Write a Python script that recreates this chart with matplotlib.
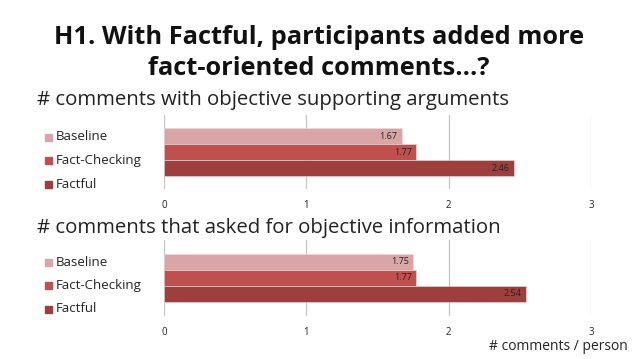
import matplotlib
matplotlib.use("Agg")
import matplotlib.pyplot as plt
from matplotlib.patches import Rectangle

plt.rcParams['font.family'] = ['Open Sans', 'DejaVu Sans']

title = "H1. With Factful, participants added more\nfact-oriented comments...?"
subtitles = ["# comments with objective supporting arguments",
             "# comments that asked for objective information"]
categories = ["Baseline", "Fact-Checking", "Factful"]
values_supporting = [1.67, 1.77, 2.46]
values_asked = [1.75, 1.77, 2.54]
xticks = [0, 1, 2, 3]
xlabel = "# comments / person"
colors = ["#D9A5A6", "#C0504D", "#9E3F3D"]

W, H = 638, 359
fig = plt.figure(figsize=(W / 100, H / 100), dpi=100)

def px_axes(x0, y0, x1, y1):
    return fig.add_axes([x0 / W, 1 - y1 / H, (x1 - x0) / W, (y1 - y0) / H])

fig.text(0.5, 1 - 53 / H, title, ha="center", va="center", fontsize=18.3,
         fontweight="bold", color="#111111", linespacing=1.3)

panels = [
    (values_supporting, subtitles[0], 115, 189, 100),
    (values_asked, subtitles[1], 240, 316, 228),
]

for vals, sub, ytop, ybot, ysub in panels:
    ax = px_axes(164, ytop, 591, ybot)
    n = len(categories)
    span = ybot - ytop
    bar_px = 16
    margin = (span - n * bar_px) / 2 / bar_px
    ax.set_xlim(0, 3)
    ax.set_ylim(n - 0.5 + margin, -0.5 - margin)
    ax.barh(range(n), vals, height=1.0, color=colors, edgecolor="#F2DADA",
            linewidth=0.4, zorder=3)
    for i, v in enumerate(vals):
        ax.text(v - 0.03, i, f"{v:.2f}", ha="right", va="center",
                fontsize=6.5, color="#222222", zorder=4)
    ax.set_xticks(xticks)
    ax.grid(axis="x", color="#C4C4C4", linewidth=0.9, zorder=0)
    ax.tick_params(axis="x", length=0, labelsize=7, colors="#222222", pad=8)
    ax.set_yticks([])
    for s in ax.spines.values():
        s.set_visible(False)
    fig.text(37 / W, 1 - ysub / H, sub, ha="left", va="center",
             fontsize=14.7, color="#222222")
    # legend
    for i, c in enumerate(categories):
        yc = ytop + 22 + i * 23.5
        fig.patches.append(Rectangle((45 / W, 1 - (yc + 3.5) / H), 7 / W, 7 / H,
                                     transform=fig.transFigure, color=colors[i]))
        fig.text(56 / W, 1 - yc / H, c, ha="left", va="center",
                 fontsize=9.5, color="#222222")

fig.text(628 / W, 1 - 346 / H, xlabel, ha="right", va="center",
         fontsize=10, color="#222222")

fig.savefig("out.png", dpi=100)
